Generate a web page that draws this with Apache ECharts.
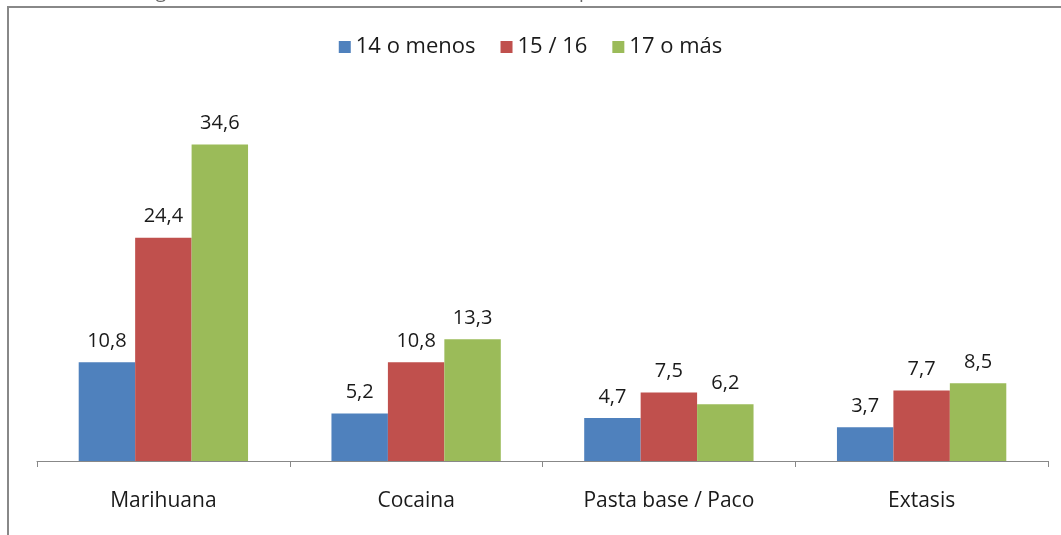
<!DOCTYPE html>
<html>
<head>
    <meta charset="utf-8">
    <script src="https://cdn.jsdelivr.net/npm/echarts@6/dist/echarts.min.js"></script>
</head>
<body style="margin:0;background:#fff;">
    <div id="main" style="width: 1061px;height:535px;"></div>
    <script type="text/javascript">
        // categorias y series
        var categorias = ['Marihuana', 'Cocaina', 'Pasta base / Paco', 'Extasis'];
        var series14 = [10.8, 5.2, 4.7, 3.7];
        var series15 = [24.4, 10.8, 7.5, 7.7];
        var series17 = [34.6, 13.3, 6.2, 8.5];
        var nombres = ['14 o menos', '15 / 16', '17 o más'];

        var fuente = '"Open Sans", Lato, sans-serif';

        var etiqueta = {
            show: true,
            position: 'top',
            distance: 11,
            color: '#1a1a1a',
            fontSize: 20,
            fontFamily: fuente,
            formatter: function (p) {
                return p.value.toFixed(1).replace('.', ',');
            }
        };

        function serie(nombre, datos, color) {
            return {
                name: nombre,
                type: 'bar',
                data: datos,
                barGap: '0%',
                barCategoryGap: '33%',
                itemStyle: { color: color },
                label: etiqueta,
                animation: false
            };
        }

        var myChart = echarts.init(document.getElementById('main'));
        var option = {
            backgroundColor: '#ffffff',
            graphic: [
                {
                    type: 'text',
                    left: 8,
                    top: -17,
                    style: {
                        text: 'Consumo de drogas ilícitas en estudiantes del nivel medio. Total país 2005',
                        fontSize: 19,
                        fontFamily: fuente,
                        fill: '#666'
                    }
                },
                {
                    type: 'rect',
                    shape: { x: 8, y: 7, width: 1100, height: 600 },
                    style: { fill: 'none', stroke: '#888', lineWidth: 2 }
                }
            ],
            legend: {
                top: 31,
                left: 'center',
                itemWidth: 12,
                itemHeight: 12,
                itemGap: 25,
                icon: 'rect',
                data: nombres,
                textStyle: { fontSize: 22, fontFamily: fuente, color: '#1a1a1a' }
            },
            grid: { left: 37, right: 13, top: 95, bottom: 74 },
            xAxis: {
                type: 'category',
                data: categorias,
                axisLine: { lineStyle: { color: '#888', width: 1 } },
                axisTick: { show: true, length: 6, lineStyle: { color: '#888' } },
                axisLabel: { color: '#1a1a1a', fontSize: 21, fontFamily: fuente, margin: 30 }
            },
            yAxis: {
                type: 'value',
                min: 0,
                max: 40,
                show: false,
                splitLine: { show: false }
            },
            series: [
                serie(nombres[0], series14, '#4F81BD'),
                serie(nombres[1], series15, '#C0504D'),
                serie(nombres[2], series17, '#9BBB59')
            ]
        };
        myChart.setOption(option);
    </script>
</body>
</html>
